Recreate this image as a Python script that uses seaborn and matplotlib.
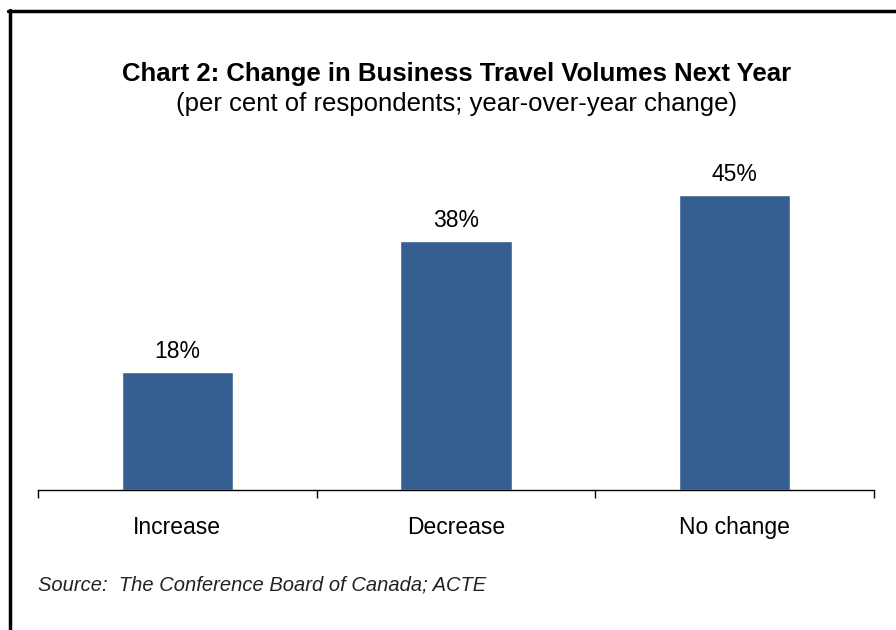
import matplotlib
matplotlib.use("Agg")
import matplotlib.pyplot as plt
import seaborn as sns
import pandas as pd
from matplotlib.lines import Line2D

# Chart data
categories = ["Increase", "Decrease", "No change"]
shares = [18, 38, 45]
value_labels = ["18%", "38%", "45%"]

df = pd.DataFrame({"category": categories, "share": shares})

sns.set_style("white")
plt.rcParams["font.family"] = ["Liberation Sans", "DejaVu Sans"]

fig = plt.figure(figsize=(8.96, 6.3), dpi=100)
ax = fig.add_axes([38 / 896, 1 - 490 / 630, 836 / 896, (490 - 162) / 630])

sns.barplot(data=df, x="category", y="share", color="#365F91",
            width=0.4, saturation=1, ax=ax)

for i, (v, lab) in enumerate(zip(shares, value_labels)):
    ax.text(i, v + 1.3, lab, ha="center", va="bottom", fontsize=16.5, color="black")

ax.set_xlim(-0.5, 2.5)
ax.set_ylim(0, 50)
ax.set_xlabel("")
ax.set_ylabel("")
ax.set_yticks([])
for s in ["top", "right", "left"]:
    ax.spines[s].set_visible(False)
ax.spines["bottom"].set_color("black")
ax.spines["bottom"].set_linewidth(1.0)

# ticks between categories (at boundaries)
ax.set_xticks([-0.5, 0.5, 1.5, 2.5], minor=True)
ax.tick_params(axis="x", which="minor", bottom=True, direction="out",
               length=6, width=1, color="black")
ax.tick_params(axis="x", which="major", bottom=False, labelsize=16.5,
               labelcolor="black", pad=15)

fig.text(0.51, 1 - 74 / 630, "Chart 2: Change in Business Travel Volumes Next Year",
         ha="center", va="center", fontsize=18.5, fontweight="bold", color="black")
fig.text(0.51, 1 - 104 / 630, "(per cent of respondents; year-over-year change)",
         ha="center", va="center", fontsize=18.5, color="black")
fig.text(38 / 896, 1 - 585 / 630, "Source:  The Conference Board of Canada; ACTE",
         ha="left", va="center", fontsize=14.5, style="italic", color="#222222")

# frame around chart (left and top edges visible)
fig.add_artist(Line2D([9.5 / 896, 9.5 / 896], [0, 1 - 10 / 630],
                      transform=fig.transFigure, color="black", lw=2.5))
fig.add_artist(Line2D([8 / 896, 1], [1 - 10.5 / 630, 1 - 10.5 / 630],
                      transform=fig.transFigure, color="black", lw=2.5))

fig.savefig("out.png", dpi=100, facecolor="white")
